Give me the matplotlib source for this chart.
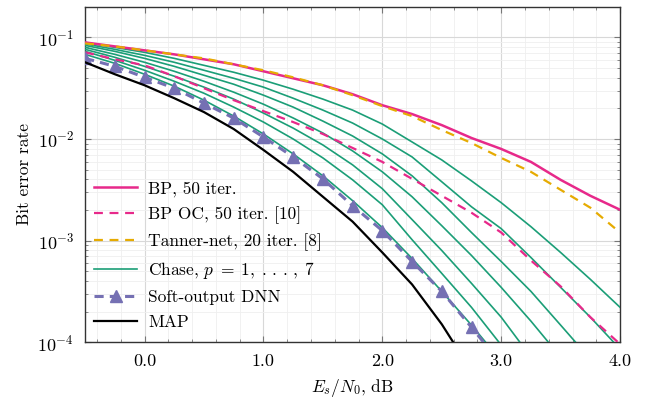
import matplotlib
matplotlib.use("Agg")
import matplotlib.pyplot as plt
from matplotlib.ticker import FixedLocator, FormatStrFormatter, LogLocator, NullFormatter

plt.rcParams["font.family"] = "serif"
plt.rcParams["font.serif"] = ["cmr10"]
plt.rcParams["mathtext.fontset"] = "cm"
plt.rcParams["axes.formatter.use_mathtext"] = True

# Es/N0 grid (dB)
esn0 = [-0.5, -0.25, 0.0, 0.25, 0.5, 0.75, 1.0, 1.25, 1.5, 1.75, 2.0,
        2.25, 2.5, 2.75, 3.0, 3.25, 3.5, 3.75, 4.0]

ber_bp = [0.0893, 0.0816, 0.0746, 0.0681, 0.0609, 0.0544, 0.0464, 0.0396, 0.0338,
          0.0276, 0.0215, 0.0176, 0.0137, 0.01023, 0.00798, 0.00595, 0.00396,
          0.00276, 0.00201]
ber_bp_oc = [0.0713, 0.0609, 0.0531, 0.0415, 0.0316, 0.0241, 0.0188, 0.01468, 0.0112,
             0.00816, 0.00595, 0.00405, 0.00276, 0.00188, 0.0012, 0.000637, 0.000354,
             0.000176, 0.0000956]
ber_tanner = [0.0873, 0.0816, 0.0746, 0.0681, 0.0622, 0.0544, 0.0475, 0.0405, 0.0338,
              0.0270, 0.02106, 0.0168, 0.01225, 0.00913, 0.00651, 0.00475, 0.00316,
              0.002106, 0.001198]
ber_chase = [
    [0.0681, 0.0556, 0.0434, 0.0331, 0.0241, 0.0168, 0.0112, 0.00713, 0.00434, 0.00247,
     0.00134, 0.000666, 0.000316, 0.000147, 0.0000651],
    [0.0729, 0.0595, 0.0475, 0.0370, 0.0282, 0.0206, 0.01468, 0.01, 0.00651, 0.00396,
     0.00225, 0.00102, 0.000475, 0.00022, 0.0000935],
    [0.0763, 0.0637, 0.0519, 0.0415, 0.0324, 0.0247, 0.0180, 0.0128, 0.00873, 0.00556,
     0.00324, 0.00161, 0.000798, 0.000379, 0.000176, 0.0000713],
    [0.0798, 0.0681, 0.0569, 0.0464, 0.0370, 0.0289, 0.0220, 0.0161, 0.01145, 0.00763,
     0.00475, 0.0027, 0.0014, 0.000713, 0.000346, 0.000161, 0.0000713],
    [0.0835, 0.0729, 0.0622, 0.0519, 0.0424, 0.0346, 0.0270, 0.0206, 0.0150, 0.0107,
     0.00713, 0.00434, 0.00236, 0.0012, 0.000622, 0.000316, 0.000147, 0.0000681],
    [0.0864, 0.0763, 0.0666, 0.0569, 0.0475, 0.0396, 0.0324, 0.0252, 0.01925, 0.01435,
     0.01, 0.00666, 0.00379, 0.00215, 0.00131, 0.000681, 0.000346, 0.000176, 0.0000854],
    [0.0893, 0.0798, 0.0713, 0.0622, 0.0531, 0.0454, 0.0379, 0.0309, 0.0247, 0.01925,
     0.01403, 0.00935, 0.00622, 0.00387, 0.00236, 0.00137, 0.000763, 0.000415, 0.00022],
]
ber_dnn = [0.0622, 0.0519, 0.0405, 0.0316, 0.02253, 0.01606, 0.01046, 0.00666, 0.00405,
           0.0022, 0.001253, 0.000622, 0.000316, 0.00014, 0.0000609]
ber_map = [0.0569, 0.0434, 0.0338, 0.0252, 0.0184, 0.01253, 0.0078, 0.00475, 0.0027,
           0.001536, 0.000763, 0.00037, 0.00015, 0.000052]

pink = "#e7298a"
orange = "#e6ab02"
green = "#1b9e77"
purple = "#7570b3"

fig, ax = plt.subplots(figsize=(6.5, 4.03), dpi=100)
fig.subplots_adjust(left=0.131, right=0.954, bottom=0.151, top=0.983)

chase_lines = []
for c in ber_chase:
    l, = ax.plot(esn0[:len(c)], c, color=green, lw=1.2, zorder=3)
    chase_lines.append(l)
h_bp, = ax.plot(esn0, ber_bp, color=pink, lw=1.8, zorder=4)
h_oc, = ax.plot(esn0, ber_bp_oc, color=pink, lw=1.6, ls=(0, (4, 3)), zorder=4)
h_tn, = ax.plot(esn0, ber_tanner, color=orange, lw=1.6, ls=(0, (4, 3)), zorder=5)
h_dnn, = ax.plot(esn0[:len(ber_dnn)], ber_dnn, color=purple, lw=2.2, ls=(0, (3, 2)),
                 marker="^", ms=8, zorder=6)
h_map, = ax.plot(esn0[:len(ber_map)], ber_map, color="black", lw=1.6, zorder=6)

ax.set_yscale("log")
ax.set_xlim(-0.5, 4.0)
ax.set_ylim(1e-4, 0.2)

ax.xaxis.set_major_locator(FixedLocator([0, 1, 2, 3, 4]))
ax.xaxis.set_major_formatter(FormatStrFormatter("%.1f"))
ax.xaxis.set_minor_locator(FixedLocator([-0.4, -0.2, 0.2, 0.4, 0.6, 0.8, 1.2, 1.4, 1.6, 1.8,
                                         2.2, 2.4, 2.6, 2.8, 3.2, 3.4, 3.6, 3.8]))
ax.yaxis.set_major_locator(LogLocator(base=10, numticks=10))
ax.yaxis.set_minor_locator(LogLocator(base=10, subs=range(2, 10), numticks=20))
ax.yaxis.set_minor_formatter(NullFormatter())

ax.grid(True, which="major", color="#d8d8d8", lw=0.8)
ax.grid(True, which="minor", color="#efefef", lw=0.6)
ax.set_axisbelow(True)
ax.tick_params(which="both", direction="in", top=True, right=True, color="#777777",
               labelsize=13)
ax.tick_params(which="major", length=4, pad=8)
ax.tick_params(which="minor", length=2.5)
for s in ax.spines.values():
    s.set_color("#333333")
    s.set_linewidth(1.0)

ax.set_xlabel("$E_s/N_0$, dB", fontsize=12.5, labelpad=6)
ax.set_ylabel("Bit error rate", fontsize=12.5)

ax.legend([h_bp, h_oc, h_tn, chase_lines[0], h_dnn, h_map],
          ["BP, 50 iter.", "BP OC, 50 iter. [10]", "Tanner-net, 20 iter. [8]",
           "Chase, $p\\;=\\;1,\\;.\\,.\\,.\\,,\\;7$", "Soft-output DNN", "MAP"],
          loc="lower left", bbox_to_anchor=(-0.006, 0.0), fontsize=12.5,
          frameon=False, handlelength=2.5, handletextpad=0.6, labelspacing=0.53,
          borderpad=0.2, borderaxespad=0.5)

fig.savefig("out.png", dpi=100)
